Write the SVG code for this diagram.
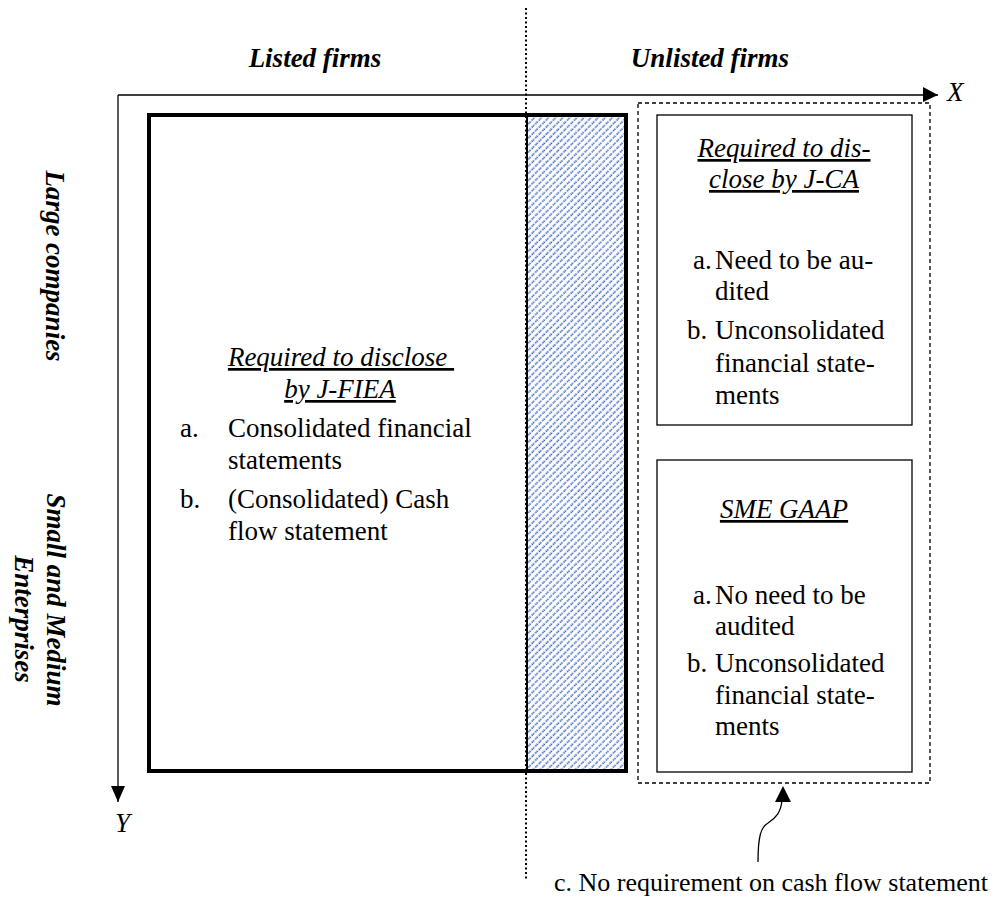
<svg xmlns="http://www.w3.org/2000/svg" width="995" height="901" viewBox="0 0 995 901" font-family="'Liberation Serif', Tinos, 'Times New Roman', 'Nimbus Roman', 'DejaVu Serif', serif">
<style>
text{font-family:"Liberation Serif",Tinos,"Times New Roman","Nimbus Roman","DejaVu Serif",serif;fill:#000}
.t{font-size:27px}
.bi{font-size:27px;font-weight:bold;font-style:italic}
.it{font-style:italic}
.u{text-decoration:underline}
.box{fill:#fff;stroke:#000;stroke-width:1.3}
</style>
<defs>
<pattern id="hatch" width="5" height="5" patternUnits="userSpaceOnUse" patternTransform="rotate(45)">
<line x1="1.2" y1="-1" x2="1.2" y2="6" stroke="#3660c0" stroke-width="1.6" stroke-dasharray="1.3 0.6"/>
</pattern>
</defs>
<rect width="995" height="901" fill="#fff"/>

<g id="headers">
<text class="bi" x="315" y="67" text-anchor="middle">Listed firms</text>
<text class="bi" x="710" y="67" text-anchor="middle">Unlisted firms</text>
<text class="bi" transform="translate(46,266) rotate(90)" text-anchor="middle">Large companies</text>
<text class="bi" transform="translate(47,600) rotate(90)" text-anchor="middle">Small and Medium</text>
<text class="bi" transform="translate(15,619) rotate(90)" text-anchor="middle">Enterprises</text>
</g>

<g id="axes">
<line x1="118" y1="95" x2="938" y2="95" stroke="#000" stroke-width="1.3"/>
<path d="M923,87 L938,95 L923,102 Z" fill="#000"/>
<line x1="118" y1="95" x2="118" y2="802" stroke="#000" stroke-width="1.3"/>
<path d="M111,786 L118,802 L125,786 Z" fill="#000"/>
<text class="t it" x="947" y="101">X</text>
<text class="t it" x="115" y="832">Y</text>
<line x1="526" y1="8" x2="526" y2="880" stroke="#000" stroke-width="2" stroke-dasharray="2 2.5"/>
</g>

<g id="listed">
<rect x="526" y="115" width="100" height="656" fill="url(#hatch)"/>
<rect x="149" y="115" width="477" height="656" fill="none" stroke="#000" stroke-width="4"/>
<line x1="527" y1="115" x2="527" y2="771" stroke="#000" stroke-width="2"/>
<text class="t it u" x="341" y="366" text-anchor="middle">Required to disclose&#160;</text>
<text class="t it u" x="340" y="398" text-anchor="middle">by J-FIEA</text>
<text class="t" x="180" y="437">a.</text>
<text class="t" x="228" y="437">Consolidated financial</text>
<text class="t" x="228" y="469">statements</text>
<text class="t" x="180" y="508">b.</text>
<text class="t" x="228" y="508">(Consolidated) Cash</text>
<text class="t" x="228" y="540">flow statement</text>
</g>

<g id="unlisted">
<rect x="638" y="103" width="292" height="680" fill="none" stroke="#000" stroke-width="1.3" stroke-dasharray="4 3"/>
</g>

<g id="jca">
<rect class="box" x="657" y="115" width="255" height="310"/>
<text class="t it u" x="784" y="157" text-anchor="middle">Required to dis-</text>
<text class="t it u" x="784" y="188" text-anchor="middle">close by J-CA</text>
<text class="t" x="693" y="269">a.</text>
<text class="t" x="715" y="269">Need to be au-</text>
<text class="t" x="715" y="300">dited</text>
<text class="t" x="687" y="339">b.</text>
<text class="t" x="715" y="339">Unconsolidated</text>
<text class="t" x="715" y="372">financial state-</text>
<text class="t" x="715" y="404">ments</text>
</g>

<g id="sme">
<rect class="box" x="657" y="460" width="255" height="312"/>
<text class="t it u" x="784" y="518" text-anchor="middle">SME GAAP</text>
<text class="t" x="693" y="604">a.</text>
<text class="t" x="715" y="604">No need to be</text>
<text class="t" x="715" y="635">audited</text>
<text class="t" x="687" y="672">b.</text>
<text class="t" x="715" y="672">Unconsolidated</text>
<text class="t" x="715" y="704">financial state-</text>
<text class="t" x="715" y="735">ments</text>
</g>

<g id="connectors">
<path d="M758,862 C758,836 761,827 768,823 C776,818 781,812 782,800" fill="none" stroke="#000" stroke-width="1.3"/>
<path d="M775,802 L783,786 L791,802 Z" fill="#000"/>
</g>

<g id="note">
<text class="t" x="554" y="891" style="font-size:26px">c. No requirement on cash flow statement</text>
</g>
</svg>
